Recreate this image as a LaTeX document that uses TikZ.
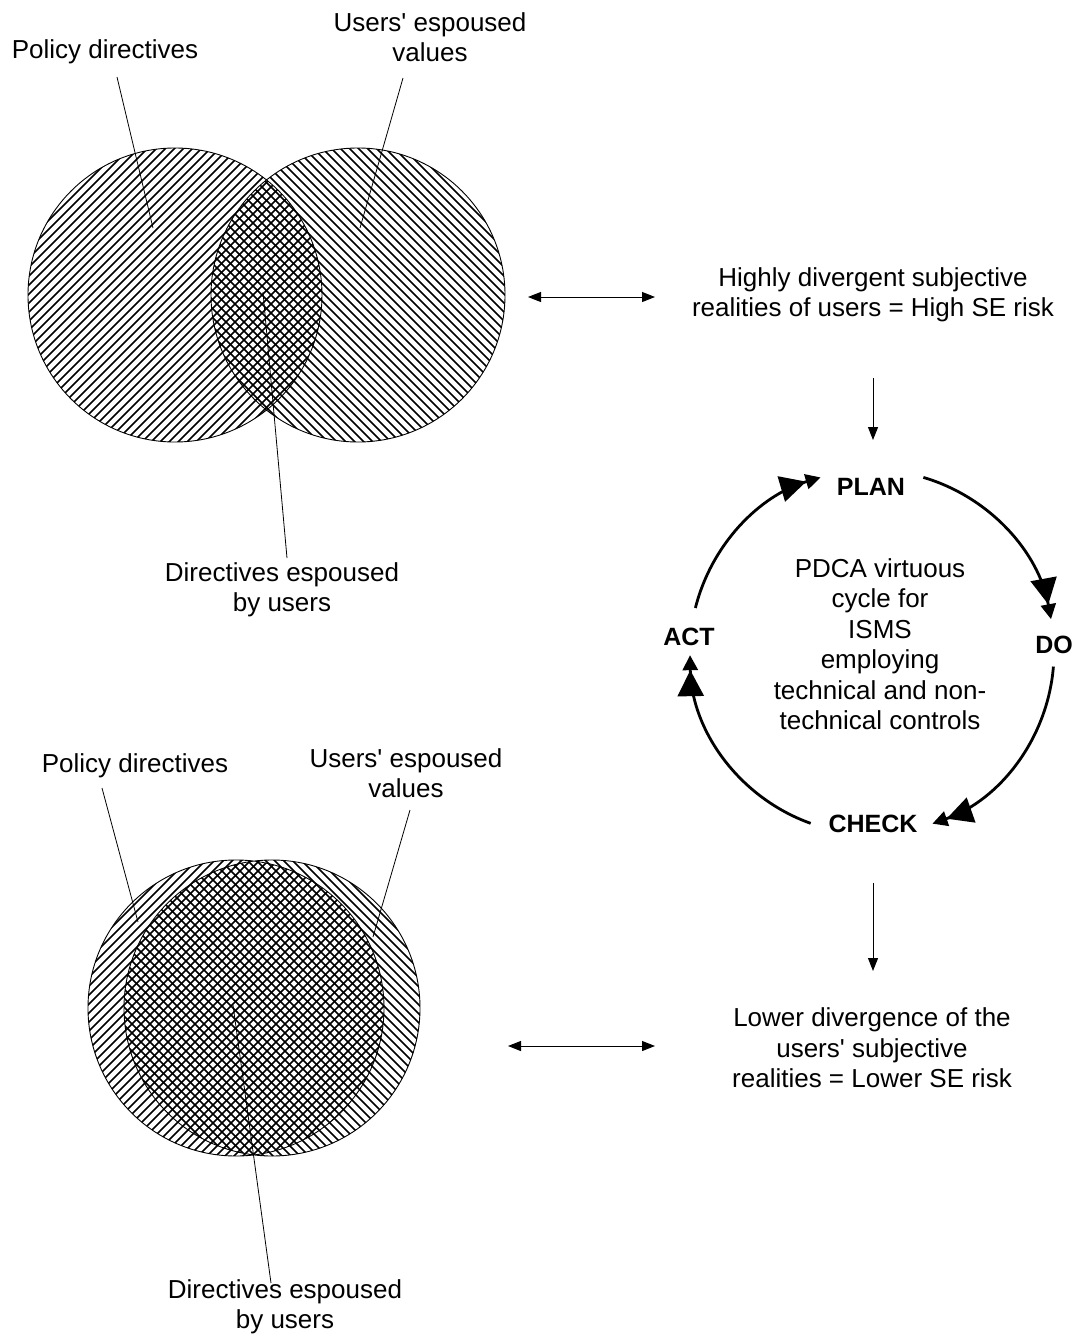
\documentclass[tikz,border=0pt]{standalone}
\usepackage{fontspec}
\setmainfont{Liberation Sans}
\usetikzlibrary{arrows.meta,calc}
\newcommand{\apos}{\textquotesingle}
\begin{document}
\begin{tikzpicture}[x=1pt,y=-1pt,
  lbl/.style={font=\fontsize{26}{30.5}\selectfont, align=center, inner sep=0pt},
  stage/.style={font=\fontsize{25}{30}\selectfont\bfseries, inner sep=0pt},
  leader/.style={line width=0.8pt},
  rim/.style={line width=0.9pt},
  hatch/.style={line width=1.5pt},
  link/.style={line width=1pt, {Triangle[length=13pt,width=10pt]}-{Triangle[length=13pt,width=10pt]}},
  flow/.style={line width=1pt, -{Triangle[length=13pt,width=10pt]}},
  loop arrow/.style={line width=2.8pt, -{Triangle[length=26pt,width=26pt]Triangle[length=15pt,width=15pt]}}]
\useasboundingbox (0,0) rectangle (1077,1336);

% ---------- upper Venn diagram: large divergence ----------
\coordinate (tl) at (175,295);
\coordinate (tr) at (358,295);
\begin{scope}
  \clip (tl) circle[radius=147];
  \foreach \c in {260,269,...,690} \draw[hatch] ({\c-450},450) -- ({\c-140},140);
\end{scope}
\begin{scope}
  \clip (tr) circle[radius=147];
  \foreach \c in {-150,-141,...,280} \draw[hatch] ({\c+140},140) -- ({\c+450},450);
\end{scope}
\draw[rim] (tl) circle[radius=147] (tr) circle[radius=147];

\node[lbl] (pd1) at (105,52) {Policy directives};
\node[lbl] (uv1) at (430,37) {Users\apos{} espoused\\values};
\node[lbl] (de1) at (282,590) {Directives espoused\\by users};
\coordinate (pd1a) at (117,77);  \coordinate (pd1b) at (153,228);
\coordinate (uv1a) at (403,78);  \coordinate (uv1b) at (360,228);
\coordinate (de1a) at (263,292); \coordinate (de1b) at (287,558);
\draw[leader] (pd1a) -- (pd1b);
\draw[leader] (uv1a) -- (uv1b);
\draw[leader] (de1a) -- (de1b);

% ---------- lower Venn diagram: small divergence ----------
\coordinate (bl) at (236,1008);
\coordinate (br) at (272,1008);
\begin{scope}
  \clip (bl) circle[radius=148];
  \foreach \c in {1030,1039,...,1465} \draw[hatch] ({\c-1160},1160) -- ({\c-855},855);
\end{scope}
\begin{scope}
  \clip (br) circle[radius=148];
  \foreach \c in {-955,-946,...,-515} \draw[hatch] ({\c+855},855) -- ({\c+1160},1160);
\end{scope}
\draw[rim] (bl) circle[radius=148] (br) circle[radius=148];

\node[lbl] (pd2) at (135,766) {Policy directives};
\node[lbl] (uv2) at (406,773) {Users\apos{} espoused\\values};
\node[lbl] (de2) at (285,1307) {Directives espoused\\by users};
\coordinate (pd2a) at (102,788);  \coordinate (pd2b) at (138,922);
\coordinate (uv2a) at (410,810);  \coordinate (uv2b) at (373,937);
\coordinate (de2a) at (233,1005); \coordinate (de2b) at (271,1283);
\draw[leader] (pd2a) -- (pd2b);
\draw[leader] (uv2a) -- (uv2b);
\draw[leader] (de2a) -- (de2b);

% ---------- risk statements ----------
\node[lbl] (high) at (873,295) {Highly divergent subjective\\realities of users = High SE risk};
\node[lbl] (low) at (872,1048) {Lower divergence of the\\users\apos{} subjective\\realities = Lower SE risk};
\coordinate (hl) at (528,297); \coordinate (hr) at (655,297);
\coordinate (ll) at (508,1046); \coordinate (lr) at (655,1046);
\draw[link] (hl) -- (hr);
\draw[link] (ll) -- (lr);
\coordinate (hd0) at (873,378); \coordinate (hd1) at (873,440);
\coordinate (ld0) at (873,883); \coordinate (ld1) at (873,971);
\draw[flow] (hd0) -- (hd1);
\draw[flow] (ld0) -- (ld1);

% ---------- PDCA cycle ----------
\coordinate (cyc) at (872,652);
\node[stage] (plan) at (871,487) {PLAN};
\node[stage] (do) at (1054,645) {DO};
\node[stage] (check) at (873,824) {CHECK};
\node[stage] (act) at (689,637) {ACT};
\node[lbl] (pdca) at (880,644) {PDCA virtuous\\cycle for\\ISMS\\employing\\technical and non-\\technical controls};

\coordinate (s1) at ($(cyc)+(-73.6:182)$);
\coordinate (s2) at ($(cyc)+(4.6:182)$);
\coordinate (s3) at ($(cyc)+(109.7:182)$);
\coordinate (s4) at ($(cyc)+(-166:182)$);
\draw[loop arrow] (s1) arc[start angle=-73.6, end angle=-10.4, radius=182];
\draw[loop arrow] (s2) arc[start angle=4.6, end angle=70.6, radius=182];
\draw[loop arrow] (s3) arc[start angle=109.7, end angle=179, radius=182];
\draw[loop arrow] (s4) arc[start angle=-166, end angle=-106.4, radius=182];
\end{tikzpicture}
\end{document}
